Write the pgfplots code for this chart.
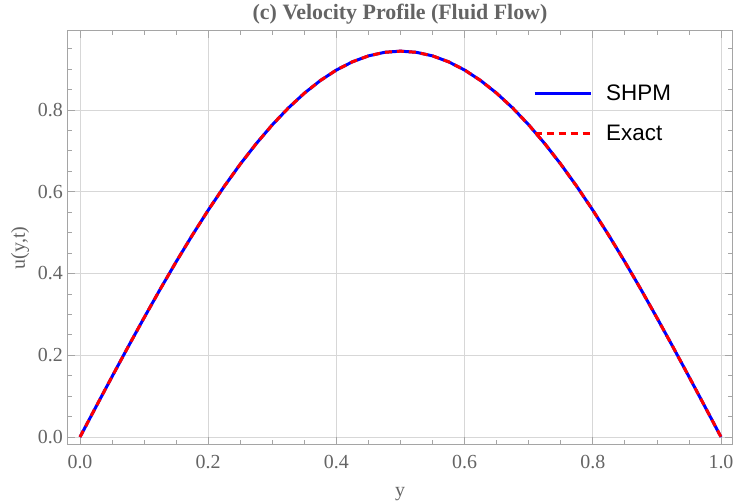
\documentclass[border=0pt]{standalone}
\usepackage{fontspec}
\setmainfont{Liberation Serif}
\newfontfamily\legfont{Liberation Sans}
\usepackage{pgfplots}
\usepackage{pgfplotstable}
\pgfplotsset{compat=1.18}
\definecolor{tickgray}{RGB}{100,100,100}
\definecolor{framegray}{RGB}{165,165,165}
\definecolor{gridgray}{RGB}{215,215,215}
\pgfplotstableread{
y u
0.000 0.0000
0.025 0.0741
0.050 0.1477
0.075 0.2204
0.100 0.2917
0.125 0.3613
0.150 0.4286
0.175 0.4932
0.200 0.5549
0.225 0.6131
0.250 0.6675
0.275 0.7178
0.300 0.7637
0.325 0.8049
0.350 0.8411
0.375 0.8721
0.400 0.8978
0.425 0.9179
0.450 0.9324
0.475 0.9411
0.500 0.9440
0.525 0.9411
0.550 0.9324
0.575 0.9179
0.600 0.8978
0.625 0.8721
0.650 0.8411
0.675 0.8049
0.700 0.7637
0.725 0.7178
0.750 0.6675
0.775 0.6131
0.800 0.5549
0.825 0.4932
0.850 0.4286
0.875 0.3613
0.900 0.2917
0.925 0.2204
0.950 0.1477
0.975 0.0741
1.000 0.0000
}\datatable
\begin{document}
\begin{tikzpicture}
\begin{axis}[
  scale only axis, width=664bp, height=413bp,
  xmin=-0.01872, xmax=1.01716, ymin=-0.01713, ymax=0.99327,
  xtick={0,0.2,0.4,0.6,0.8,1},
  ytick={0,0.2,0.4,0.6,0.8},
  minor xtick={0.05,0.1,0.15,0.25,0.3,0.35,0.45,0.5,0.55,0.65,0.7,0.75,0.85,0.9,0.95},
  minor ytick={0.05,0.1,0.15,0.25,0.3,0.35,0.45,0.5,0.55,0.65,0.7,0.75,0.85,0.9,0.95},
  tick align=inside,
  major tick length=7bp, minor tick length=4bp,
  tick style={color=framegray, line width=0.8bp},
  axis line style={color=framegray, line width=1bp},
  grid=major,
  major grid style={color=gridgray, line width=0.8bp},
  /pgf/number format/assume math mode=true,
  /pgf/number format/fixed,
  /pgf/number format/fixed zerofill,
  /pgf/number format/precision=1,
  ticklabel style={font=\fontsize{20}{20}\selectfont, text=tickgray},
  xticklabel style={anchor=base, yshift=-24bp},
  yticklabel style={anchor=east, inner sep=0pt, xshift=-5bp},
  xlabel={y}, ylabel={u(y,t)},
  every axis x label/.style={at={(axis description cs:0.5,-0.1283)}, anchor=base, inner sep=0pt,
    font=\fontsize{20}{20}\selectfont, text=tickgray},
  every axis y label/.style={at={(axis description cs:-0.0723,0.475)}, anchor=center, rotate=90, inner sep=0pt,
    font=\fontsize{20}{20}\selectfont, text=tickgray},
  title={(c) Velocity Profile (Fluid Flow)},
  title style={font=\bfseries\fontsize{22}{22}\selectfont, text=tickgray, at={(axis description cs:0.5,1)}, anchor=base, inner sep=0pt, yshift=5.5bp},
  legend image code/.code={\draw[#1] (0bp,0bp) -- (56bp,0bp);},
  legend style={draw=none, fill=none, at={(rel axis cs:0.7003,0.871)}, anchor=north west,
    inner sep=0pt, nodes={inner sep=0pt, text depth=0.15em}, column sep=14bp, row sep=23bp,
    font=\legfont\fontsize{22.5}{22.5}\selectfont},
  legend cell align=left,
]
\addplot[blue, line width=3bp] table[x=y, y=u] {\datatable};
\addlegendentry{SHPM}
\addplot[red, line width=3bp, dash pattern=on 7bp off 5bp] table[x=y, y=u] {\datatable};
\addlegendentry{Exact}
\coordinate (sw) at (rel axis cs:0,0);
\coordinate (ne) at (rel axis cs:1,1);
\end{axis}
\pgfresetboundingbox
\path[use as bounding box] ([shift={(-68bp,-58bp)}]sw) rectangle ([shift={(1bp,31bp)}]ne);
\end{tikzpicture}
\end{document}
